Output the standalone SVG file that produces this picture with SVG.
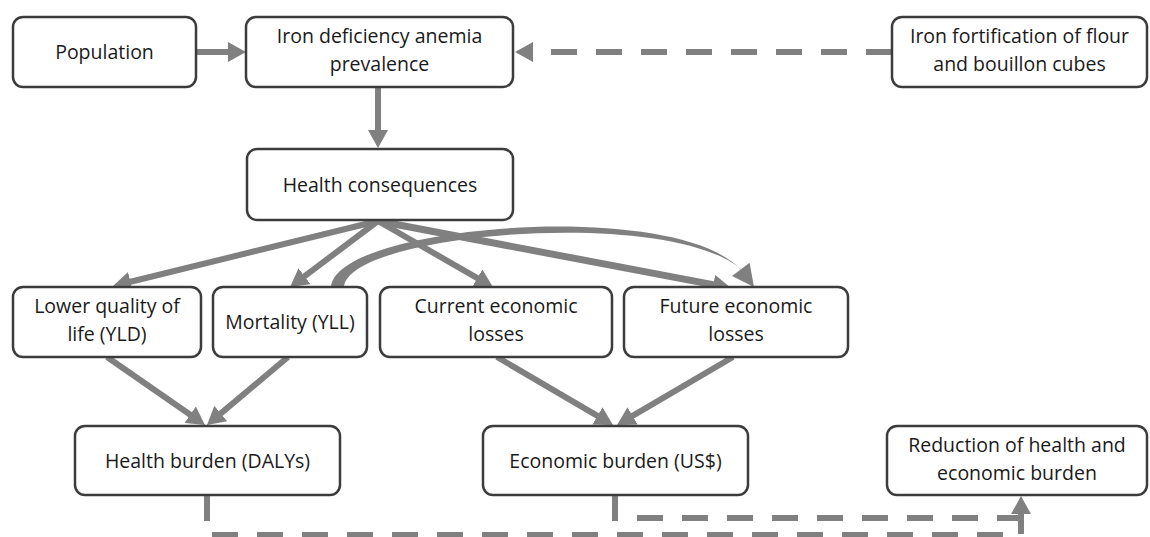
<svg xmlns="http://www.w3.org/2000/svg" width="1150" height="537" viewBox="0 0 1150 537">
<style>
.box{fill:#fff;stroke:#3c3c3c;stroke-width:2.5}
.t{font-family:"Open Sans","Liberation Sans",sans-serif;font-size:19.5px;fill:#1a1a1a;text-anchor:middle}
.c{fill:none;stroke:#808080;stroke-width:6}
.d{fill:none;stroke:#808080;stroke-width:6;stroke-dasharray:26 19}
</style>
<defs>
<marker id="ah" markerUnits="userSpaceOnUse" viewBox="0 0 18 20" markerWidth="18" markerHeight="20" refX="1" refY="10" orient="auto">
<path d="M0,0 L18,10 L0,20 z" fill="#808080"/>
</marker>
</defs>
<rect width="1150" height="537" fill="#fff"/>
<g id="connectors">
<path class="c" d="M196,52 H229" marker-end="url(#ah)"/>
<path class="d" d="M892,52 H532" marker-end="url(#ah)"/>
<path class="c" d="M378,87 V131" marker-end="url(#ah)"/>
<path class="c" d="M378,221 L129.5,282" marker-end="url(#ah)"/>
<path class="c" d="M378,221 L303.7,276.9" marker-end="url(#ah)"/>
<path class="c" d="M378,221 L478.2,278.6" marker-end="url(#ah)"/>
<path class="c" style="stroke-width:7" d="M378,221 L714.3,284.9" marker-end="url(#ah)"/>
<path d="M331,287 C336,224 678,198 741,270 L745,273 C681,205 348,232 344,287 Z" fill="#808080"/>
<polygon points="754,287 749.6,262.8 732,276" fill="#808080"/>
<path class="c" d="M107,357 L191,415.3" marker-end="url(#ah)"/>
<path class="c" d="M288,357 L220,414.1" marker-end="url(#ah)"/>
<path class="c" d="M497,357 L598.3,416.4" marker-end="url(#ah)"/>
<path class="c" d="M733,357 L631.7,416.4" marker-end="url(#ah)"/>
<path class="d" d="M207,495 V535 H1021 V513" marker-end="url(#ah)"/>
<path class="d" d="M615,495 V518 H1021"/>
</g>
<g id="population">
<rect class="box" x="13" y="17" width="183" height="70" rx="10"/>
<text class="t" x="104.5" y="59">Population</text>
</g>
<g id="ida">
<rect class="box" x="246" y="17" width="267" height="70" rx="10"/>
<text class="t" x="379.5" y="43">Iron deficiency anemia</text>
<text class="t" x="379.5" y="71">prevalence</text>
</g>
<g id="fortification">
<rect class="box" x="892" y="17" width="255" height="70" rx="10"/>
<text class="t" x="1019.5" y="43">Iron fortification of flour</text>
<text class="t" x="1019.5" y="71">and bouillon cubes</text>
</g>
<g id="health-consequences">
<rect class="box" x="247" y="149" width="266" height="71" rx="10"/>
<text class="t" x="380" y="191.5">Health consequences</text>
</g>
<g id="lower-quality">
<rect class="box" x="13" y="287" width="188" height="70" rx="10"/>
<text class="t" x="107" y="313">Lower quality of</text>
<text class="t" x="107" y="341">life (YLD)</text>
</g>
<g id="mortality">
<rect class="box" x="213" y="287" width="154" height="70" rx="10"/>
<text class="t" x="290" y="329">Mortality (YLL)</text>
</g>
<g id="current-losses">
<rect class="box" x="380" y="287" width="232" height="70" rx="10"/>
<text class="t" x="496" y="313">Current economic</text>
<text class="t" x="496" y="341">losses</text>
</g>
<g id="future-losses">
<rect class="box" x="624" y="287" width="224" height="70" rx="10"/>
<text class="t" x="736" y="313">Future economic</text>
<text class="t" x="736" y="341">losses</text>
</g>
<g id="health-burden">
<rect class="box" x="75" y="426" width="265" height="69" rx="10"/>
<text class="t" x="207.5" y="467.5">Health burden (DALYs)</text>
</g>
<g id="economic-burden">
<rect class="box" x="483" y="426" width="265" height="69" rx="10"/>
<text class="t" x="615.5" y="467.5">Economic burden (US$)</text>
</g>
<g id="reduction">
<rect class="box" x="887" y="426" width="260" height="69" rx="10"/>
<text class="t" x="1017" y="452">Reduction of health and</text>
<text class="t" x="1017" y="480">economic burden</text>
</g>
</svg>
